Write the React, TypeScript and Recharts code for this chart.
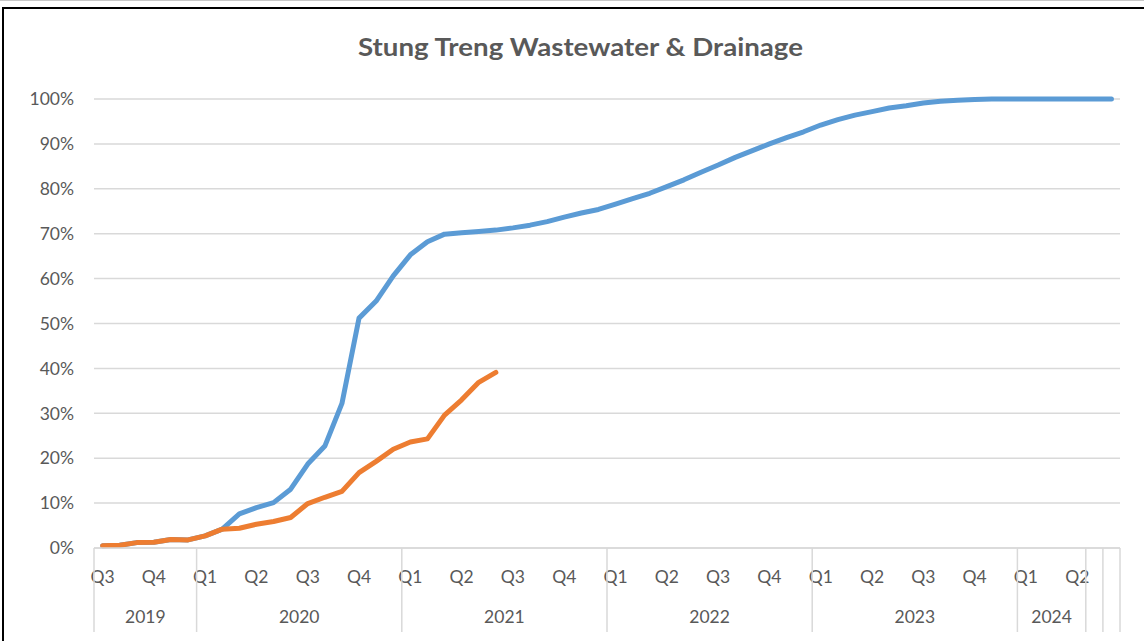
import React from 'react';
import { LineChart, Line, XAxis, YAxis, CartesianGrid } from 'recharts';

const months = [
  'Jul 2019', 'Aug 2019', 'Sep 2019', 'Oct 2019', 'Nov 2019', 'Dec 2019',
  'Jan 2020', 'Feb 2020', 'Mar 2020', 'Apr 2020', 'May 2020', 'Jun 2020',
  'Jul 2020', 'Aug 2020', 'Sep 2020', 'Oct 2020', 'Nov 2020', 'Dec 2020',
  'Jan 2021', 'Feb 2021', 'Mar 2021', 'Apr 2021', 'May 2021', 'Jun 2021',
  'Jul 2021', 'Aug 2021', 'Sep 2021', 'Oct 2021', 'Nov 2021', 'Dec 2021',
  'Jan 2022', 'Feb 2022', 'Mar 2022', 'Apr 2022', 'May 2022', 'Jun 2022',
  'Jul 2022', 'Aug 2022', 'Sep 2022', 'Oct 2022', 'Nov 2022', 'Dec 2022',
  'Jan 2023', 'Feb 2023', 'Mar 2023', 'Apr 2023', 'May 2023', 'Jun 2023',
  'Jul 2023', 'Aug 2023', 'Sep 2023', 'Oct 2023', 'Nov 2023', 'Dec 2023',
  'Jan 2024', 'Feb 2024', 'Mar 2024', 'Apr 2024', 'May 2024', 'Jun 2024',
];

const quarterLabels = [
  'Q3', '', '', 'Q4', '', '',
  'Q1', '', '', 'Q2', '', '', 'Q3', '', '', 'Q4', '', '',
  'Q1', '', '', 'Q2', '', '', 'Q3', '', '', 'Q4', '', '',
  'Q1', '', '', 'Q2', '', '', 'Q3', '', '', 'Q4', '', '',
  'Q1', '', '', 'Q2', '', '', 'Q3', '', '', 'Q4', '', '',
  'Q1', '', '', 'Q2', '', '',
];

const yearLabels = ['2019', '2020', '2021', '2022', '2023', '2024', '', ''];
const yearSpans = [6, 12, 12, 12, 12, 4, 1, 1];

const planned = [
  0.5, 0.6, 1.2, 1.3, 1.9, 1.8,
  2.7, 4.2, 7.6, 9.0, 10.1, 13.1, 18.7, 22.7, 32.2, 51.2, 55.0, 60.6,
  65.3, 68.2, 69.9, 70.2, 70.5, 70.8, 71.3, 71.9, 72.7, 73.7, 74.6, 75.4,
  76.6, 77.8, 79.0, 80.5, 82.0, 83.7, 85.3, 87.0, 88.5, 90.0, 91.4, 92.7,
  94.2, 95.4, 96.4, 97.2, 98.0, 98.5, 99.1, 99.5, 99.7, 99.9, 100, 100,
  100, 100, 100, 100, 100, 100,
];

const actual = [
  0.5, 0.6, 1.2, 1.3, 1.9, 1.8,
  2.7, 4.2, 4.4, 5.3, 5.9, 6.8, 9.9, 11.3, 12.6, 16.8, 19.3, 22.0,
  23.6, 24.3, 29.6, 33.0, 36.9, 39.1,
];

const yTicks = [0, 10, 20, 30, 40, 50, 60, 70, 80, 90, 100];

const data = months.map((m, i) => ({
  month: m,
  planned: planned[i],
  actual: i < actual.length ? actual[i] : null,
}));

const FONT = 'Lato, "Open Sans", sans-serif';
const TEXT = '#595959';
const GRID = '#d9d9d9';

const W = 1144;
const H = 641;
const X_AXIS_H = 85;
const M = { top: 99, right: 24, bottom: 8, left: 34 };
const Y_AXIS_W = 60;
const PLOT_W = W - M.left - Y_AXIS_W - M.right;
const BW = PLOT_W / months.length;
const GROUP_LINE_H = 84;

const groupStarts: number[] = [];
{
  let s = 0;
  for (const n of yearSpans) {
    groupStarts.push(s);
    s += n;
  }
}

function XTick(props: any) {
  const { x, y, payload } = props;
  const i: number = payload.index;
  const els: any[] = [];
  const q = quarterLabels[i];
  if (q) {
    els.push(
      <text key="q" x={x} y={y + 35} textAnchor="middle" fill={TEXT} fontSize={17.5} fontFamily={FONT}>
        {q}
      </text>
    );
  }
  const g = groupStarts.indexOf(i);
  if (g >= 0) {
    const lx = x - BW / 2;
    els.push(<line key="gl" x1={lx} x2={lx} y1={y} y2={y + GROUP_LINE_H} stroke={GRID} strokeWidth={1.5} />);
    if (yearLabels[g]) {
      els.push(
        <text key="yl" x={lx + (yearSpans[g] * BW) / 2} y={y + 75} textAnchor="middle" fill={TEXT} fontSize={17.5} fontFamily={FONT}>
          {yearLabels[g]}
        </text>
      );
    }
  }
  if (i === months.length - 1) {
    const rx = x + BW / 2;
    els.push(<line key="rl" x1={rx} x2={rx} y1={y} y2={y + GROUP_LINE_H} stroke={GRID} strokeWidth={1.5} />);
  }
  return <g>{els}</g>;
}

export default function App() {
  return (
    <div style={{ position: 'absolute', left: 0, top: 0, width: W, height: H, background: '#fff', overflow: 'hidden' }}>
      <div style={{ position: 'absolute', left: 0, top: 0, width: W, height: 1, background: '#c8c8c8' }} />
      <div
        style={{
          position: 'absolute',
          left: 2,
          top: 7,
          width: W + 40,
          height: H + 40,
          border: '2px solid #000',
          boxSizing: 'border-box',
        }}
      />
      <svg style={{ position: 'absolute', left: 0, top: 0 }} width={W} height={80}>
        <text
          x={580.5}
          y={56}
          textAnchor="middle"
          fill={TEXT}
          fontFamily={FONT}
          fontWeight={700}
          fontSize={25}
          textLength={445}
          lengthAdjust="spacingAndGlyphs"
        >
          Stung Treng Wastewater &amp; Drainage
        </text>
      </svg>
      <div style={{ position: 'absolute', left: 0, top: 0 }}>
        <LineChart width={W} height={H} data={data} margin={M}>
          <CartesianGrid vertical={false} stroke={GRID} strokeWidth={1.5} />
          <XAxis
            dataKey="month"
            scale="band"
            interval={0}
            tickLine={false}
            tickSize={0}
            tickMargin={0}
            axisLine={{ stroke: GRID, strokeWidth: 1.5 }}
            tick={<XTick />}
            height={X_AXIS_H}
          />
          <YAxis
            domain={[0, 100]}
            ticks={yTicks}
            tickFormatter={(v: number) => `${v}%`}
            axisLine={false}
            tickLine={false}
            tickSize={0}
            tickMargin={20}
            width={Y_AXIS_W}
            tick={{ fill: TEXT, fontSize: 17.5, fontFamily: FONT }}
          />
          <Line
            type="linear"
            dataKey="planned"
            stroke="#5b9bd5"
            strokeWidth={5}
            dot={false}
            strokeLinecap="round"
            strokeLinejoin="round"
            isAnimationActive={false}
          />
          <Line
            type="linear"
            dataKey="actual"
            stroke="#ed7d31"
            strokeWidth={5}
            dot={false}
            strokeLinecap="round"
            strokeLinejoin="round"
            connectNulls={false}
            isAnimationActive={false}
          />
        </LineChart>
      </div>
    </div>
  );
}
